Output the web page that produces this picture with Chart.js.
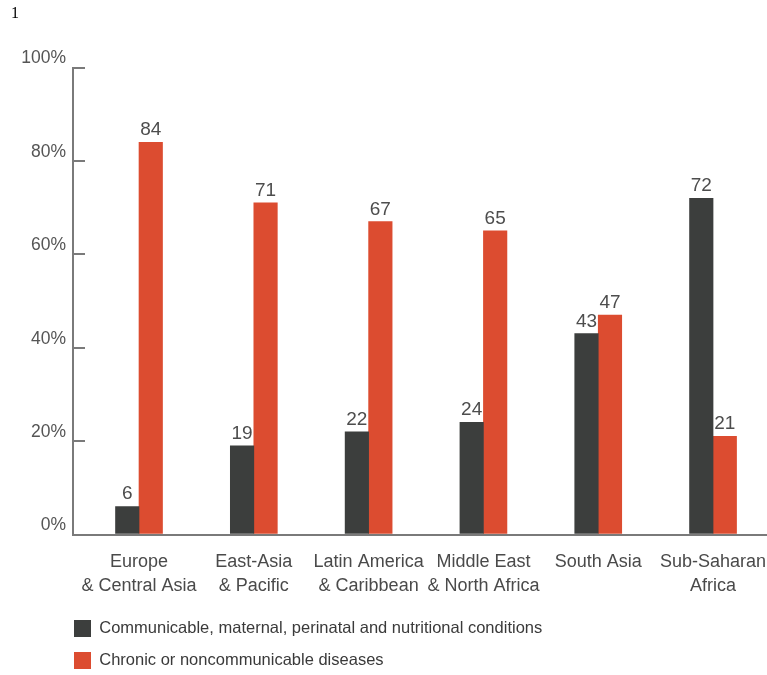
<!DOCTYPE html>
<html>
<head>
<meta charset="UTF-8">
<title>Disease burden by region</title>
<script src="https://cdn.jsdelivr.net/npm/chart.js@4"></script>
<style>
  body { margin: 0; background: #fff; overflow: hidden; }
  #wrap { position: relative; width: 767px; height: 679px; }
  #note { position: absolute; left: 11px; top: 5px; font: 16px/16px 'Liberation Serif', serif; color: #000; }
</style>
</head>
<body>
<div id="wrap"><canvas id="chart"></canvas></div>
<div id="note">1</div>
<script>
const regions = [
  ['Europe', '& Central Asia'],
  ['East-Asia', '& Pacific'],
  ['Latin America', '& Caribbean'],
  ['Middle East', '& North Africa'],
  ['South Asia'],
  ['Sub-Saharan', 'Africa']
];
const communicable = [6, 19, 22, 24, 43, 72];
const chronic = [84, 71, 67, 65, 47, 21];
const yTicks = [0, 20, 40, 60, 80, 100];
const seriesNames = [
  'Communicable, maternal, perinatal and nutritional conditions',
  'Chronic or noncommunicable diseases'
];

const FONT = "'Liberation Sans', Arial, sans-serif";
Chart.defaults.font.family = FONT;

// numbers above each bar
const valueLabels = {
  id: 'valueLabels',
  afterDatasetsDraw(chart) {
    const ctx = chart.ctx;
    ctx.save();
    ctx.font = '19px ' + FONT;
    ctx.fillStyle = '#4d4d4d';
    ctx.textAlign = 'center';
    ctx.textBaseline = 'alphabetic';
    chart.data.datasets.forEach((ds, i) => {
      chart.getDatasetMeta(i).data.forEach((bar, j) => {
        ctx.fillText(ds.data[j], bar.x, bar.y - 7);
      });
    });
    ctx.restore();
  }
};

// legend rows start under the y axis, not at the canvas edge
const legendIndent = {
  id: 'legendIndent',
  afterLayout(chart) {
    chart.legend.left += 59;
  }
};

new Chart(document.getElementById('chart'), {
  type: 'bar',
  data: {
    labels: regions.map((r, i) => i),
    datasets: [
      { label: seriesNames[0], data: communicable, backgroundColor: '#3c3e3d' },
      { label: seriesNames[1], data: chronic, backgroundColor: '#dc4c30' }
    ]
  },
  options: {
    responsive: true,
    maintainAspectRatio: false,
    animation: false,
    layout: { padding: { top: 67.5, left: 0, right: 0, bottom: 0 } },
    datasets: { bar: { barThickness: 23.5 } },
    plugins: {
      tooltip: { enabled: false },
      legend: {
        position: 'bottom',
        align: 'start',
        labels: {
          boxWidth: 17,
          boxHeight: 17,
          padding: 15,
          color: '#3a3a3a',
          font: { size: 16.5 }
        }
      }
    },
    scales: {
      x: {
        type: 'linear',
        offset: false,
        bounds: 'data',
        min: -0.575,
        max: 5.47,
        afterBuildTicks: s => { s.ticks = regions.map((r, i) => ({ value: i })); },
        afterFit: s => { s.height = 70.5; s.paddingLeft = 0; s.paddingRight = 0; },
        grid: { display: false, drawTicks: false, offset: false },
        border: { color: '#7a7a7a', width: 2 },
        ticks: {
          autoSkip: false,
          maxRotation: 0,
          padding: 16,
          color: '#4a4a4a',
          font: { size: 18, lineHeight: '24px' },
          callback: v => regions[v]
        }
      },
      y: {
        min: 0,
        max: 100,
        afterBuildTicks: s => { s.ticks = yTicks.map(v => ({ value: v })); },
        afterFit: s => { s.width = 73; s.paddingTop = 0; s.paddingBottom = 0; },
        grid: { drawOnChartArea: false, tickLength: -12, color: '#7a7a7a', lineWidth: 2 },
        border: { color: '#7a7a7a', width: 2 },
        ticks: {
          padding: 19,
          labelOffset: -9,
          color: '#555',
          font: { size: 17.5 },
          callback: v => v + '%'
        }
      }
    }
  },
  plugins: [valueLabels, legendIndent]
});
</script>
</body>
</html>
